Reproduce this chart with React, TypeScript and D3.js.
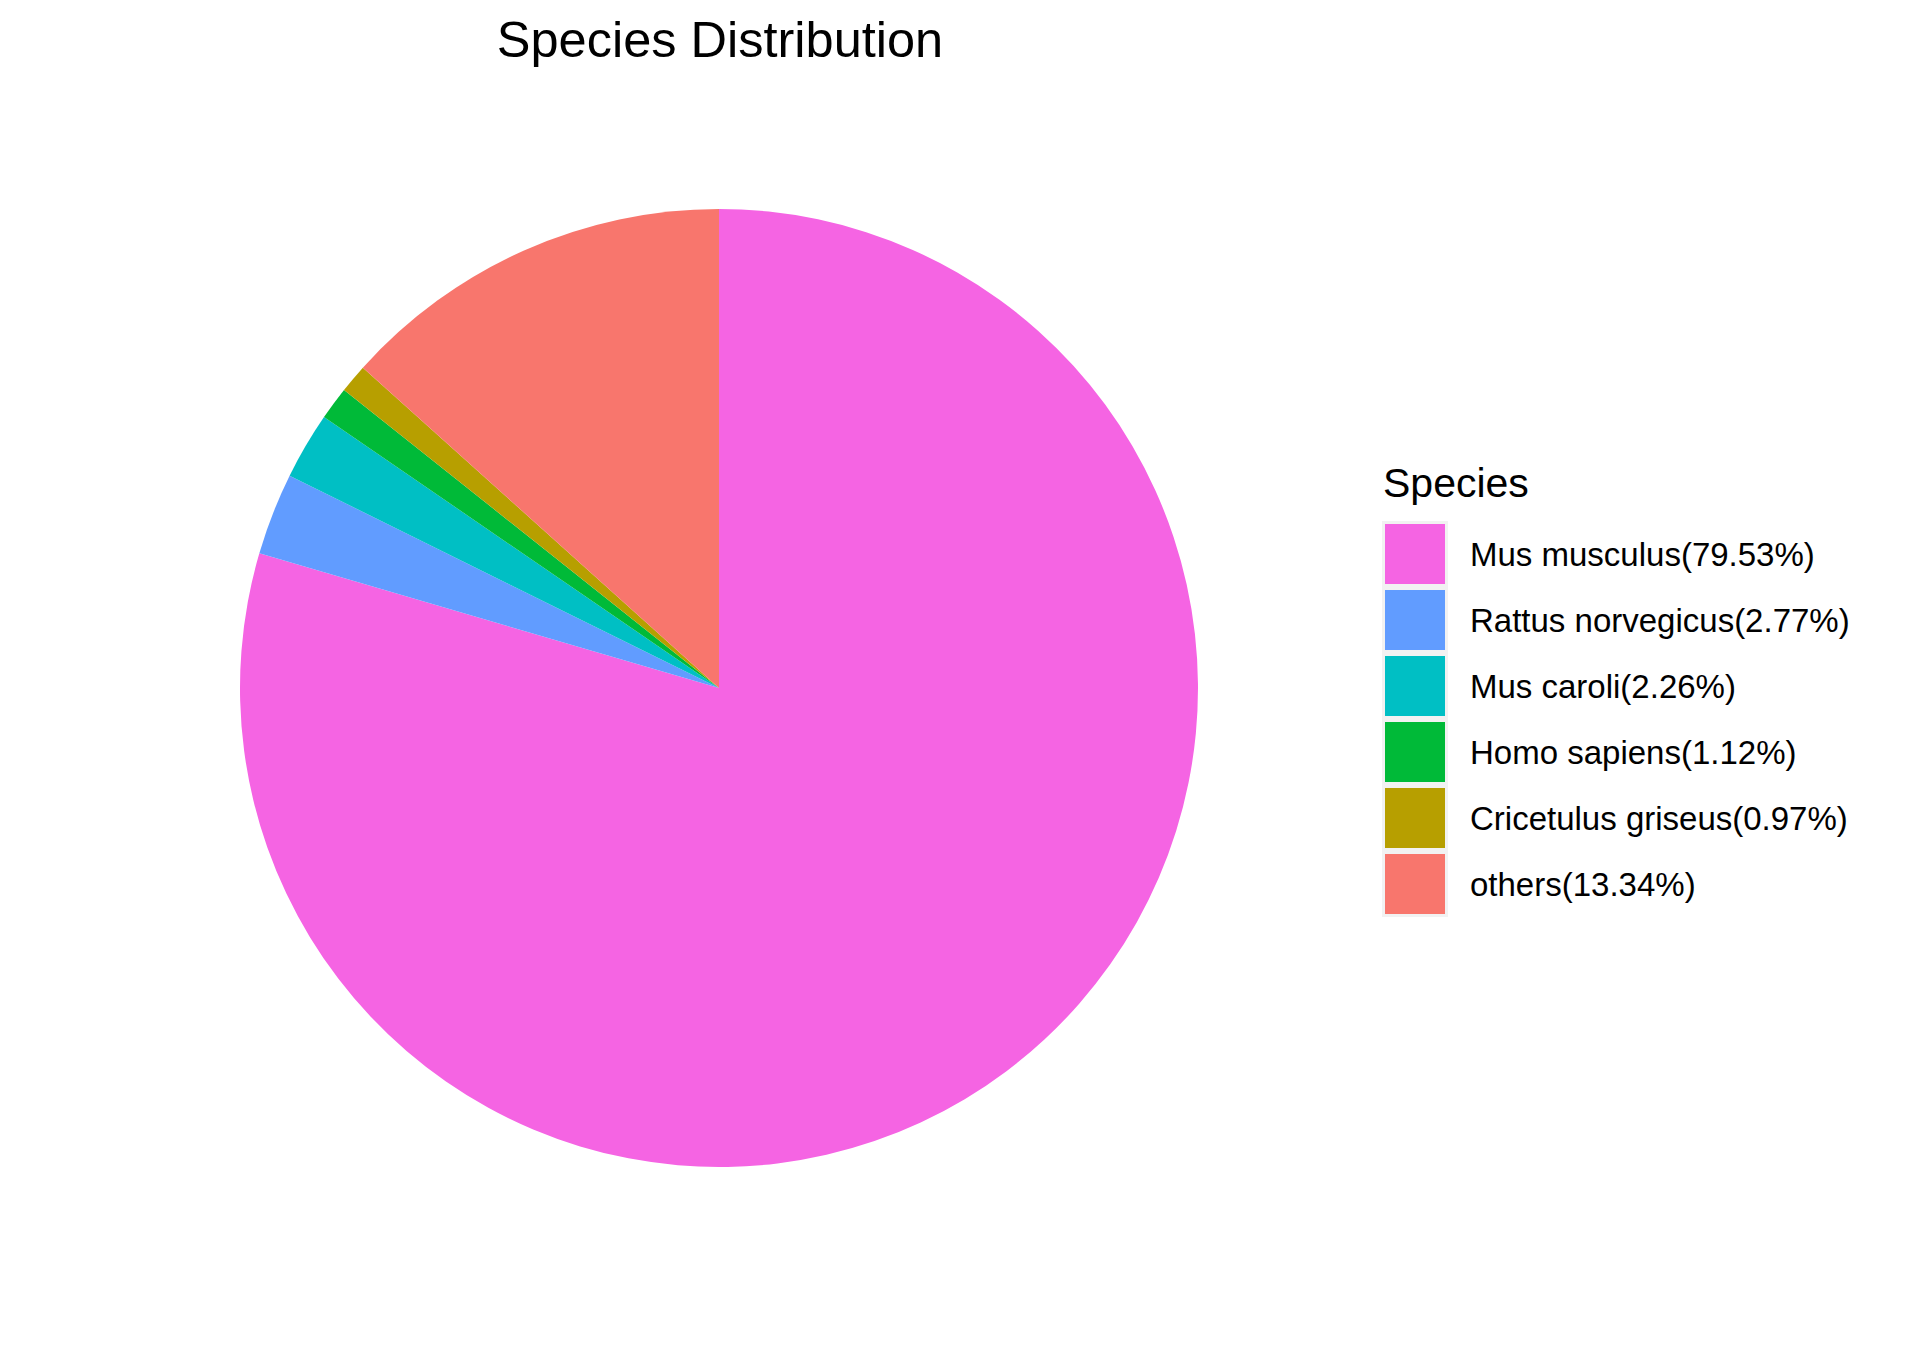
import React, { useEffect, useRef } from "react";
import * as d3 from "d3";

const species = [
  "Mus musculus",
  "Rattus norvegicus",
  "Mus caroli",
  "Homo sapiens",
  "Cricetulus griseus",
  "others",
];
const percents = [79.53, 2.77, 2.26, 1.12, 0.97, 13.34];
const colors = ["#F564E3", "#619CFF", "#00BFC4", "#00BA38", "#B79F00", "#F8766D"];

const App: React.FC = () => {
  const svgRef = useRef<SVGSVGElement | null>(null);
  const width = 1920;
  const height = 1371;
  const centerX = 719;
  const centerY = 688;
  const radius = 479;

  useEffect(() => {
    document.body.style.margin = "0";

    const svg = d3.select(svgRef.current);
    svg.selectAll("*").remove();
    svg.attr("width", width).attr("height", height);

    svg.append("rect").attr("width", width).attr("height", height).attr("fill", "#ffffff");

    const font = "'Liberation Sans', Arial, Helvetica, sans-serif";

    svg
      .append("text")
      .attr("x", 720)
      .attr("y", 57)
      .attr("text-anchor", "middle")
      .style("font-family", font)
      .style("font-size", "50.5px")
      .attr("fill", "#000000")
      .text("Species Distribution");

    const data = species.map((name, i) => ({ name, value: percents[i], color: colors[i] }));

    const pie = d3
      .pie<{ name: string; value: number; color: string }>()
      .sort(null)
      .value(d => d.value);

    const arc = d3
      .arc<d3.PieArcDatum<{ name: string; value: number; color: string }>>()
      .innerRadius(0)
      .outerRadius(radius);

    const g = svg.append("g").attr("transform", `translate(${centerX}, ${centerY})`);

    g.selectAll("path")
      .data(pie(data))
      .enter()
      .append("path")
      .attr("d", arc)
      .attr("fill", d => d.data.color);

    // legend
    const legendX = 1382;
    const legendY = 521;
    const keySize = 66;

    svg
      .append("text")
      .attr("x", 1383)
      .attr("y", 497)
      .style("font-family", font)
      .style("font-size", "41px")
      .attr("fill", "#000000")
      .text("Species");

    const legend = svg
      .selectAll(".legend")
      .data(data)
      .enter()
      .append("g")
      .attr("class", "legend")
      .attr("transform", (d, i) => `translate(${legendX}, ${legendY + i * keySize})`);

    legend
      .append("rect")
      .attr("width", keySize)
      .attr("height", keySize)
      .attr("fill", "#f2f2f2");

    legend
      .append("rect")
      .attr("x", 3)
      .attr("y", 3)
      .attr("width", keySize - 6)
      .attr("height", keySize - 6)
      .attr("fill", d => d.color);

    legend
      .append("text")
      .attr("x", 88)
      .attr("y", keySize / 2 + 12)
      .style("font-family", font)
      .style("font-size", "33px")
      .attr("fill", "#000000")
      .text(d => `${d.name}(${d.value.toFixed(2)}%)`);
  }, []);

  return <svg ref={svgRef} style={{ display: "block" }}></svg>;
};

export default App;
